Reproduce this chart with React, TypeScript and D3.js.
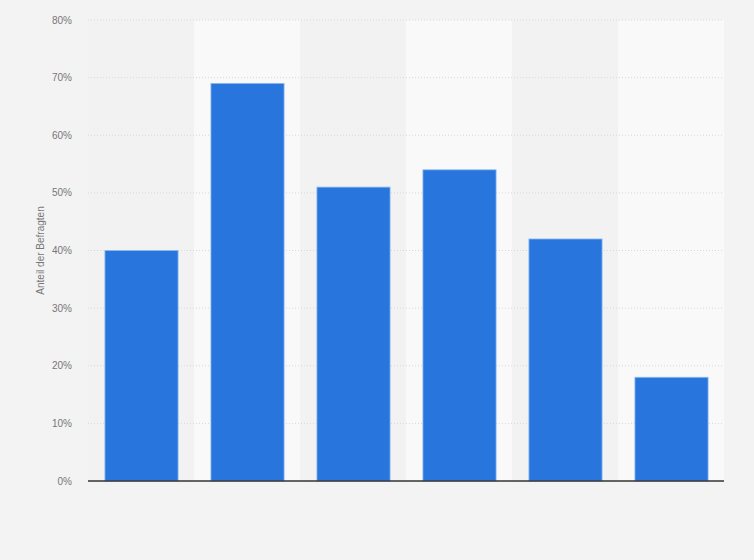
import React from 'react';
import * as d3 from 'd3';

// categories have no visible labels in the source chart
const categories = ['k1', 'k2', 'k3', 'k4', 'k5', 'k6'];
const values = [40, 69, 51, 54, 42, 18];
const yTicks = [0, 10, 20, 30, 40, 50, 60, 70, 80];
const yTitle = 'Anteil der Befragten';

const width = 754;
const height = 560;
const margin = { top: 20, right: 30, bottom: 79, left: 88 };

const App: React.FC = () => {
  const innerW = width - margin.left - margin.right;
  const innerH = height - margin.top - margin.bottom;

  const x = d3.scaleBand<string>().domain(categories).range([0, innerW]).padding(0);
  const y = d3.scaleLinear().domain([0, 80]).range([innerH, 0]);
  const barW = x.bandwidth() * 0.69;
  const barOff = (x.bandwidth() - barW) / 2 + 0.5;

  return (
    <svg
      width={width}
      height={height}
      style={{ position: 'absolute', left: 0, top: 0, display: 'block', background: '#f3f3f3', fontFamily: '"Liberation Sans", Arial, sans-serif' }}
    >
      <g transform={`translate(${margin.left},${margin.top})`}>
        {/* alternating column bands */}
        {categories.map((c, i) => (
          <rect key={c} x={x(c)} y={0} width={x.bandwidth()} height={innerH} fill={i % 2 === 0 ? '#f2f2f2' : '#f9f9f9'} />
        ))}

        {/* grid */}
        {yTicks.map(t => t > 0 && (
          <line key={t} x1={0} x2={innerW} y1={y(t)} y2={y(t)} stroke="#d8d8d8" strokeWidth={1} strokeDasharray="1,2" />
        ))}

        {/* bars */}
        {categories.map((c, i) => (
          <rect
            key={c}
            x={x(c)! + barOff}
            y={y(values[i])}
            width={barW}
            height={innerH - y(values[i])}
            fill="#2876dd"
            stroke="#8fb8f0"
            strokeWidth={0.8}
          />
        ))}

        {/* baseline */}
        <line x1={0} x2={innerW} y1={innerH} y2={innerH} stroke="#333" strokeWidth={1.5} />

        {/* y tick labels */}
        {yTicks.map(t => (
          <text key={t} x={-16} y={y(t)} dy="0.35em" textAnchor="end" fontSize={10} fill="#777">
            {`${t}%`}
          </text>
        ))}

        <text
          transform={`translate(${40 - margin.left},${innerH / 2}) rotate(-90)`}
          textAnchor="middle"
          dy="0.35em"
          fontSize={10}
          fill="#777"
        >
          {yTitle}
        </text>
      </g>
    </svg>
  );
};

export default App;
